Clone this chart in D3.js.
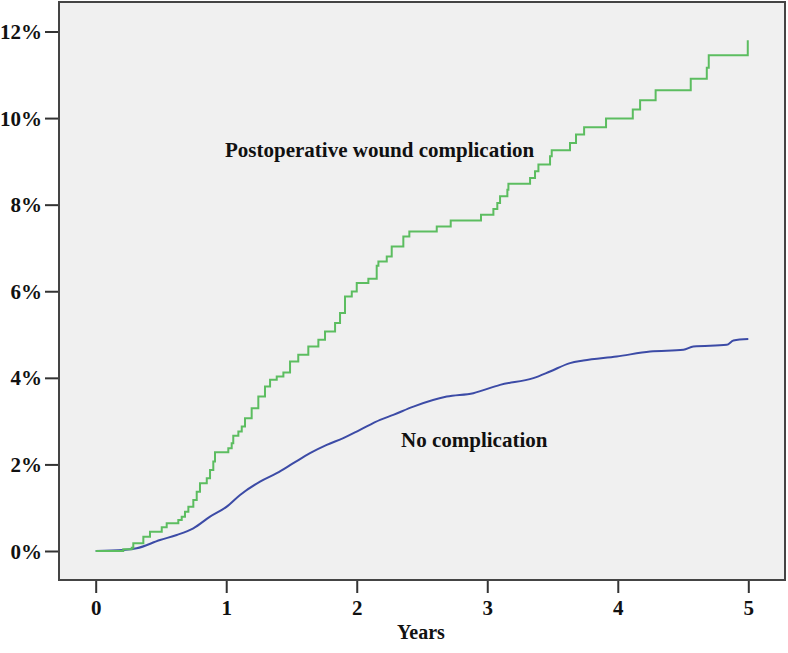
<!DOCTYPE html>
<html>
<head>
<meta charset="utf-8">
<script src="https://cdn.jsdelivr.net/npm/d3@7/dist/d3.min.js"></script>
<style>
  html, body { margin: 0; padding: 0; background: #ffffff; }
  svg { display: block; }
  text { font-family: "Liberation Serif", "Times New Roman", serif; font-weight: bold; fill: #111; }
</style>
</head>
<body>
<svg id="chart" width="788" height="653"></svg>
<script>
// ---- Data (years, cumulative incidence %) ----
const woundTimes = [0, 0.211, 0.276, 0.288, 0.365, 0.416, 0.506, 0.544, 0.633, 0.659, 0.684, 0.710, 0.748, 0.774, 0.799, 0.851, 0.876, 0.901, 0.914, 1.016, 1.042, 1.054, 1.093, 1.119, 1.144, 1.195, 1.246, 1.297, 1.336, 1.387, 1.438, 1.489, 1.552, 1.629, 1.706, 1.757, 1.834, 1.872, 1.910, 1.962, 2.0, 2.089, 2.153, 2.166, 2.230, 2.268, 2.357, 2.403, 2.613, 2.720, 2.952, 3.047, 3.077, 3.098, 3.154, 3.162, 3.328, 3.366, 3.392, 3.481, 3.494, 3.634, 3.680, 3.742, 3.910, 4.115, 4.171, 4.290, 4.559, 4.682, 4.697, 4.996];
const woundValues = [0, 0.04, 0.076, 0.178, 0.33, 0.446, 0.548, 0.64, 0.717, 0.793, 0.909, 1.024, 1.179, 1.371, 1.565, 1.681, 1.873, 2.065, 2.282, 2.375, 2.49, 2.66, 2.758, 2.874, 3.068, 3.299, 3.568, 3.799, 3.954, 4.03, 4.123, 4.377, 4.532, 4.724, 4.879, 5.071, 5.265, 5.496, 5.88, 5.995, 6.19, 6.289, 6.59, 6.689, 6.805, 7.036, 7.267, 7.383, 7.498, 7.637, 7.769, 7.901, 8.039, 8.192, 8.347, 8.486, 8.617, 8.77, 8.925, 9.117, 9.256, 9.427, 9.619, 9.787, 9.988, 10.197, 10.411, 10.643, 10.906, 11.161, 11.452, 11.8];

const noCompTimes = [0, 0.211, 0.314, 0.493, 0.621, 0.748, 0.876, 1.004, 1.106, 1.259, 1.387, 1.514, 1.642, 1.770, 1.897, 2.025, 2.179, 2.280, 2.434, 2.690, 2.893, 3.098, 3.353, 3.481, 3.634, 3.736, 3.992, 4.248, 4.503, 4.579, 4.835, 4.886, 5.0];
const noCompValues = [0, 0.023, 0.062, 0.254, 0.37, 0.525, 0.793, 1.024, 1.295, 1.602, 1.796, 2.028, 2.259, 2.451, 2.606, 2.798, 3.029, 3.145, 3.336, 3.568, 3.646, 3.838, 3.993, 4.146, 4.340, 4.400, 4.493, 4.608, 4.647, 4.724, 4.763, 4.862, 4.895];

const xTicks = [0, 1, 2, 3, 4, 5];
const yTicks = [0, 2, 4, 6, 8, 10, 12];
const seriesLabels = ["Postoperative wound complication", "No complication"];
const xTitle = "Years";

// ---- Layout ----
const svg = d3.select("#chart");
const frame = { left: 59, top: 2, right: 785, bottom: 580 };

const x = d3.scaleLinear().domain([0, 5]).range([95.7, 748.3]);
const y = d3.scaleLinear().domain([0, 12]).range([551, 31.5]);

// plot background
svg.append("rect")
  .attr("x", frame.left).attr("y", frame.top)
  .attr("width", frame.right - frame.left).attr("height", frame.bottom - frame.top)
  .attr("fill", "#f0f0f0");

// axes
const yAxis = d3.axisLeft(y).tickValues(yTicks).tickFormat(d => d + "%").tickSize(14).tickPadding(3);
const gy = svg.append("g").attr("transform", `translate(${frame.left},0)`).call(yAxis);
gy.select(".domain").remove();
gy.selectAll(".tick line").attr("stroke", "#333").attr("stroke-width", 2);
gy.selectAll(".tick text").attr("font-size", 21).attr("font-family", "Liberation Serif, serif").attr("font-weight", "bold").attr("fill", "#111").attr("dy", "0.34em");

const xAxis = d3.axisBottom(x).tickValues(xTicks).tickFormat(d3.format("d")).tickSize(13).tickPadding(7);
const gx = svg.append("g").attr("transform", `translate(0,${frame.bottom})`).call(xAxis);
gx.select(".domain").remove();
gx.selectAll(".tick line").attr("stroke", "#333").attr("stroke-width", 2);
gx.selectAll(".tick text").attr("font-size", 21).attr("font-family", "Liberation Serif, serif").attr("font-weight", "bold").attr("fill", "#111");

// frame
svg.append("rect")
  .attr("x", frame.left).attr("y", frame.top)
  .attr("width", frame.right - frame.left).attr("height", frame.bottom - frame.top)
  .attr("fill", "none").attr("stroke", "#444").attr("stroke-width", 2);

// lines
const woundData = woundTimes.map((t, i) => ({ t, v: woundValues[i] }));
const noCompData = noCompTimes.map((t, i) => ({ t, v: noCompValues[i] }));

const stepLine = d3.line().x(d => x(d.t)).y(d => y(d.v)).curve(d3.curveStepAfter);
const smoothLine = d3.line().x(d => x(d.t)).y(d => y(d.v)).curve(d3.curveMonotoneX);

svg.append("path").datum(noCompData)
  .attr("d", smoothLine)
  .attr("fill", "none").attr("stroke", "#3c4ba6").attr("stroke-width", 2);

svg.append("path").datum(woundData)
  .attr("d", stepLine)
  .attr("fill", "none").attr("stroke", "#5cbd60").attr("stroke-width", 2);

// labels
svg.append("text").attr("x", 225).attr("y", 157).attr("font-size", 21).text(seriesLabels[0]);
svg.append("text").attr("x", 401).attr("y", 447).attr("font-size", 21).text(seriesLabels[1]);
svg.append("text").attr("x", 421).attr("y", 639).attr("text-anchor", "middle").attr("font-size", 20).text(xTitle);
</script>
</body>
</html>
